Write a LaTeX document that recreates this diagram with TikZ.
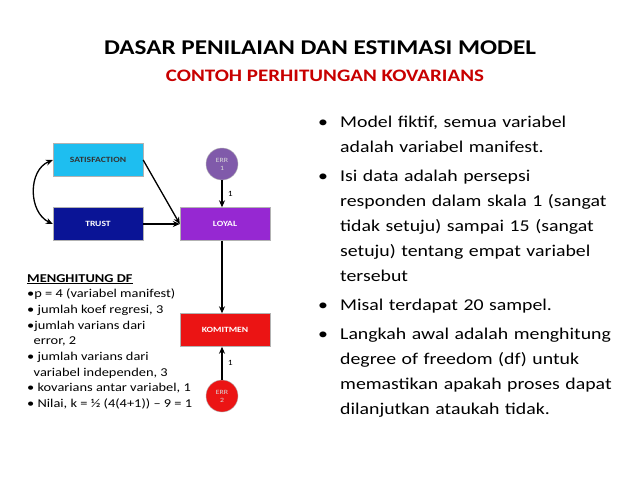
\documentclass[tikz,border=0pt]{standalone}
\usepackage{fontspec}
\setmainfont{Carlito}[FakeStretch=1.2]
\usetikzlibrary{arrows.meta}
\definecolor{sat}{RGB}{30,190,240}
\definecolor{tru}{RGB}{10,20,150}
\definecolor{loy}{RGB}{150,40,210}
\definecolor{e1}{RGB}{128,90,170}
\definecolor{kom}{RGB}{235,20,20}
\definecolor{tit}{RGB}{200,0,0}
\tikzset{
 box/.style={draw=black!30,minimum width=90pt,minimum height=33pt,inner sep=0,font=\fontsize{8}{9}\selectfont\bfseries,text=white},
 err/.style={circle,draw=black!30,minimum size=32pt,inner sep=0,align=center,font=\fontsize{6.5}{8}\selectfont,text=white!85!black},
 arr/.style={-{Stealth[length=7pt,width=6pt]},line width=1.3pt},
 lbl/.style={font=\fontsize{8}{9}\selectfont},
 bul/.style={font=\fontsize{16.5}{25}\selectfont,align=left,text width=320pt}
}
\begin{document}
\begin{tikzpicture}[x=1pt,y=-1pt]
\useasboundingbox[fill=white] (0,0) rectangle (638,479);
\node[font=\fontsize{21}{23}\selectfont\bfseries] (t) at (320,48) {DASAR PENILAIAN DAN ESTIMASI MODEL};
\node[font=\fontsize{17.5}{19}\selectfont\bfseries,text=tit] (st) at (325,76) {CONTOH PERHITUNGAN KOVARIANS};
\node[box,fill=sat,text=black!80] (sat) at (98,160) {SATISFACTION};
\node[box,fill=tru] (tru) at (98,224) {TRUST};
\node[box,fill=loy] (loy) at (225,224) {LOYAL};
\node[box,fill=kom] (kom) at (225,330) {KOMITMEN};
\node[err,fill=e1] (e1) at (222,164) {ERR\\1};
\node[err,fill=kom] (e2) at (222,396) {ERR\\2};
\draw[arr] (sat.east) -- (loy.west);
\draw[arr] (tru) -- (loy);
\draw[arr] (e1) -- (e1 |- loy.north) node[lbl,midway,right=2pt] {1};
\draw[arr] (e1 |- loy.south) -- (e1 |- kom.north);
\draw[arr] (e2) -- (e2 |- kom.south) node[lbl,midway,right=2pt] {1};
\draw[{Stealth[length=7pt,width=6pt]}-{Stealth[length=7pt,width=6pt]},line width=1.3pt] (sat.west) .. controls (28,170) and (28,212) .. (tru.west);
\node[anchor=north west,align=left,font=\fontsize{12}{15.7}\selectfont,inner sep=0] (df) at (27,274) {\underline{\textbf{MENGHITUNG DF}}\\
•p = 4 (variabel manifest)\\
• jumlah koef regresi, 3\\
•jumlah varians dari\\
\ \ error, 2\\
• jumlah varians dari\\
\ \ variabel independen, 3\\
• kovarians antar variabel, 1\\
• Nilai, k = ½ (4(4+1)) – 9 = 1};
\node[bul,anchor=north west,inner sep=0] (b) at (318,116) {%
\makebox[22pt][l]{•}Model fiktif, semua variabel\\ \hspace*{22pt}adalah variabel manifest.\\[4pt]
\makebox[22pt][l]{•}Isi data adalah persepsi\\ \hspace*{22pt}responden dalam skala 1 (sangat\\ \hspace*{22pt}tidak setuju) sampai 15 (sangat\\ \hspace*{22pt}setuju) tentang empat variabel\\ \hspace*{22pt}tersebut\\[4pt]
\makebox[22pt][l]{•}Misal terdapat 20 sampel.\\[4pt]
\makebox[22pt][l]{•}Langkah awal adalah menghitung\\ \hspace*{22pt}degree of freedom (df) untuk\\ \hspace*{22pt}memastikan apakah proses dapat\\ \hspace*{22pt}dilanjutkan ataukah tidak.};
\end{tikzpicture}
\end{document}
